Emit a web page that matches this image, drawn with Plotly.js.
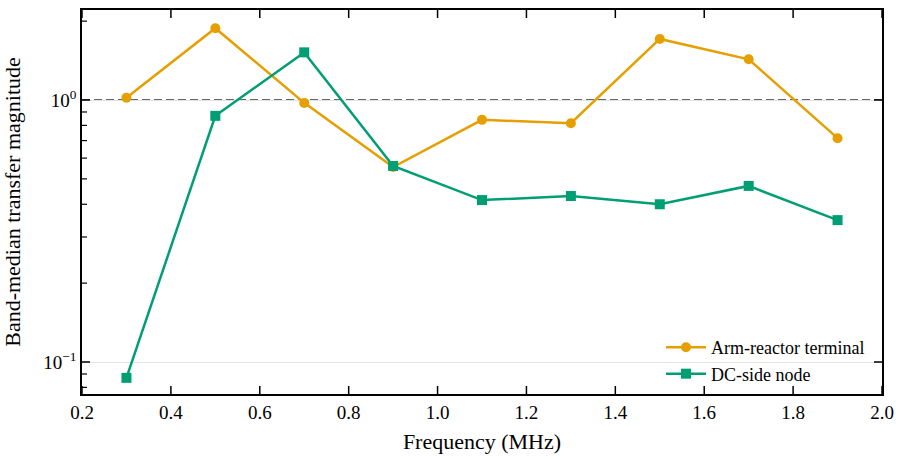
<!DOCTYPE html>
<html>
<head>
<meta charset="utf-8">
<script src="https://cdn.plot.ly/plotly-3.0.1.min.js"></script>
<style>
  body { margin: 0; background: #fff; }
  #chart { width: 902px; height: 459px; }
</style>
</head>
<body>
<div id="chart"></div>
<script>
// data
var freqMHz = [0.3, 0.5, 0.7, 0.9, 1.1, 1.3, 1.5, 1.7, 1.9];
var armReactor = [1.02, 1.88, 0.975, 0.555, 0.84, 0.815, 1.71, 1.43, 0.715];
var dcSide = [0.087, 0.87, 1.52, 0.56, 0.415, 0.43, 0.40, 0.47, 0.348];
var xTicks = [0.2, 0.4, 0.6, 0.8, 1.0, 1.2, 1.4, 1.6, 1.8, 2.0];
var xTickText = ['0.2', '0.4', '0.6', '0.8', '1.0', '1.2', '1.4', '1.6', '1.8', '2.0'];
var yMajor = [0.1, 1];
var yMajorText = ['10<sup>\u22121</sup>', '10<sup>0</sup>'];
var yMinor = [0.08, 0.09, 0.2, 0.3, 0.4, 0.5, 0.6, 0.7, 0.8, 0.9, 2];

var orange = '#E69F00';
var green = '#009E73';
var yRange = [-1.122137, 0.343511];
var serif = 'Liberation Serif';

var data = [
  {
    x: freqMHz, y: armReactor, name: 'Arm-reactor terminal',
    type: 'scatter', mode: 'lines+markers',
    line: {color: orange, width: 2.5},
    marker: {symbol: 'circle', size: 10, color: orange}
  },
  {
    x: freqMHz, y: dcSide, name: 'DC-side node',
    type: 'scatter', mode: 'lines+markers',
    line: {color: green, width: 2.5},
    marker: {symbol: 'square', size: 10, color: green}
  }
];

// inside tick marks (the axis ticks did not show up in the render, so draw them as shapes)
var tickLine = {color: '#000', width: 1.5};
var shapes = [
  {type: 'line', xref: 'paper', x0: 0, x1: 1, yref: 'y', y0: 1, y1: 1,
   line: {color: '#666', width: 2, dash: '8px,4px'}, layer: 'below'}
];
xTicks.forEach(function (v) {
  // bottom and top
  shapes.push({type: 'line', xref: 'x', x0: v, x1: v, yref: 'paper', ysizemode: 'pixel', yanchor: 0, y0: 0, y1: 8, line: tickLine});
  shapes.push({type: 'line', xref: 'x', x0: v, x1: v, yref: 'paper', ysizemode: 'pixel', yanchor: 1, y0: 0, y1: -8, line: tickLine});
});
yMajor.forEach(function (v) {
  // left and right
  shapes.push({type: 'line', yref: 'y', y0: v, y1: v, xref: 'paper', xsizemode: 'pixel', xanchor: 0, x0: 0, x1: 8, line: tickLine});
  shapes.push({type: 'line', yref: 'y', y0: v, y1: v, xref: 'paper', xsizemode: 'pixel', xanchor: 1, x0: 0, x1: -8, line: tickLine});
});
yMinor.forEach(function (v) {
  shapes.push({type: 'line', yref: 'y', y0: v, y1: v, xref: 'paper', xsizemode: 'pixel', xanchor: 0, x0: 0, x1: 5, line: {color: '#000', width: 1.2}});
});

var layout = {
  width: 902,
  height: 459,
  margin: {l: 82, r: 20, t: 10, b: 65},
  paper_bgcolor: '#fff',
  plot_bgcolor: '#fff',
  font: {family: serif, size: 19, color: '#000'},
  showlegend: true,
  legend: {
    x: 0.985, y: 0.005, xanchor: 'right', yanchor: 'bottom',
    bgcolor: 'rgba(255,255,255,0)',
    font: {family: serif, size: 18},
    itemwidth: 40
  },
  xaxis: {
    range: [0.2, 2.0],
    tickmode: 'array', tickvals: xTicks, ticktext: xTickText,
    ticks: '',
    tickfont: {family: serif, size: 19},
    showline: true, linecolor: '#000', linewidth: 1.5, mirror: true,
    showgrid: false, zeroline: false,
    title: {text: 'Frequency (MHz)', font: {family: serif, size: 22}, standoff: 12}
  },
  yaxis: {
    type: 'log',
    range: yRange,
    tickmode: 'array', tickvals: yMajor, ticktext: yMajorText,
    ticks: '',
    tickfont: {family: serif, size: 19},
    showline: true, linecolor: '#000', linewidth: 1.5, mirror: true,
    showgrid: true, gridcolor: '#e3e3e3', gridwidth: 1,
    zeroline: false,
    title: {text: 'Band-median transfer magnitude', font: {family: serif, size: 22}, standoff: 18}
  },
  shapes: shapes
};

Plotly.newPlot('chart', data, layout, {displayModeBar: false});
</script>
</body>
</html>
